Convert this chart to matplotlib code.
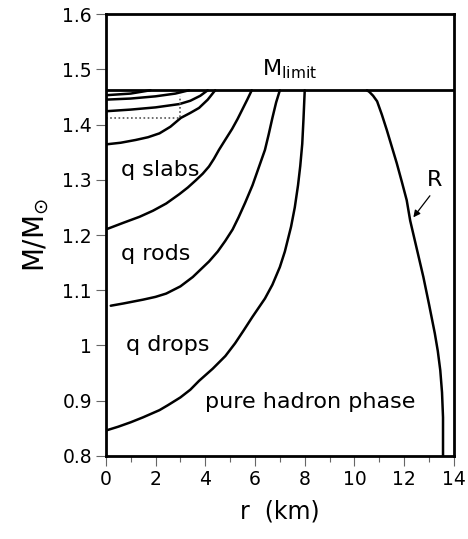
import numpy as np
import matplotlib
matplotlib.use("Agg")
import matplotlib.pyplot as plt
from matplotlib.ticker import MultipleLocator

# mass limit
m_limit = 1.462

# boundary curves (r in km, M in solar masses)
r_a = [0.0, 1.0, 1.8]
m_a = [1.453, 1.456, 1.462]

r_b = [0.0, 1.0, 2.0, 2.8, 3.35]
m_b = [1.445, 1.447, 1.451, 1.456, 1.462]

r_c = [0.0, 1.0, 2.0, 2.96, 3.4, 3.8, 4.1]
m_c = [1.424, 1.427, 1.431, 1.437, 1.443, 1.452, 1.462]

r_d = [0.0, 0.6, 1.2, 1.7, 2.16, 2.6, 3.02, 3.4, 3.75, 4.1, 4.4]
m_d = [1.364, 1.367, 1.372, 1.377, 1.384, 1.396, 1.412, 1.421, 1.430, 1.445, 1.462]

r_e = [0.0, 0.7, 1.36, 1.9, 2.43, 2.96, 3.3, 3.62, 3.9, 4.15, 4.35, 4.55,
       4.8, 5.08, 5.3, 5.5, 5.7, 5.87]
m_e = [1.210, 1.222, 1.233, 1.244, 1.257, 1.274, 1.286, 1.299, 1.311, 1.324, 1.338, 1.354,
       1.372, 1.392, 1.41, 1.428, 1.446, 1.462]

r_f = [0.2, 0.7, 1.5, 2.0, 2.43, 3.0, 3.5, 4.15, 4.5, 4.8, 5.1, 5.34, 5.6,
       5.9, 6.15, 6.4, 6.55, 6.7, 6.85, 7.0]
m_f = [1.072, 1.076, 1.083, 1.088, 1.094, 1.107, 1.124, 1.152, 1.170, 1.189, 1.210, 1.232, 1.258,
       1.290, 1.322, 1.354, 1.382, 1.412, 1.440, 1.462]

r_g = [0.0, 0.5, 1.0, 1.5, 2.16, 2.5, 3.0, 3.4, 3.75, 4.3, 4.81, 5.2, 5.54,
       5.9, 6.4, 6.7, 7.0, 7.2, 7.45, 7.6, 7.73, 7.82, 7.9, 7.95, 8.0]
m_g = [0.846, 0.853, 0.861, 0.870, 0.883, 0.892, 0.906, 0.920, 0.936, 0.958, 0.981, 1.004, 1.027,
       1.052, 1.085, 1.110, 1.142, 1.170, 1.215, 1.250, 1.290, 1.325, 1.365, 1.41, 1.462]

r_R = [10.5, 10.6, 10.75, 10.91, 11.1, 11.3, 11.5, 11.7, 11.9, 12.1, 12.24, 12.5,
       12.77, 13.0, 13.23, 13.35, 13.45, 13.52, 13.56, 13.56]
m_R = [1.462, 1.459, 1.452, 1.442, 1.418, 1.390, 1.360, 1.330, 1.297, 1.263, 1.226, 1.176,
       1.124, 1.074, 1.022, 0.990, 0.955, 0.915, 0.870, 0.800]

# dotted corner
r_dot = [0.0, 3.0, 3.0]
m_dot = [1.412, 1.412, 1.452]

xticks = [0, 2, 4, 6, 8, 10, 12, 14]
yticks = [0.8, 0.9, 1.0, 1.1, 1.2, 1.3, 1.4, 1.5, 1.6]
ylabels = ["0.8", "0.9", "1", "1.1", "1.2", "1.3", "1.4", "1.5", "1.6"]

fig = plt.figure(figsize=(4.68, 5.39), dpi=100)
ax = fig.add_axes([0.226, 0.154, 0.744, 0.820])

lw = 1.8
for r, m in [(r_a, m_a), (r_b, m_b), (r_c, m_c), (r_d, m_d), (r_e, m_e),
             (r_f, m_f), (r_g, m_g), (r_R, m_R)]:
    ax.plot(r, m, color="black", lw=lw, solid_capstyle="round", solid_joinstyle="round")
ax.axhline(m_limit, color="black", lw=2.0)
ax.plot(r_dot, m_dot, color="#555555", lw=1.2, ls=(0, (1, 1.5)))

ax.set_xlim(0, 14)
ax.set_ylim(0.8, 1.6)
ax.set_xticks(xticks)
ax.xaxis.set_minor_locator(MultipleLocator(1))
ax.set_yticks(yticks)
ax.set_yticklabels(ylabels)
ax.tick_params(which="major", direction="out", length=7, width=0.8,
               color="#666666", labelsize=13.5, pad=3)
ax.tick_params(which="minor", axis="x", direction="out", length=4, width=0.8,
               color="#666666")
for s in ax.spines.values():
    s.set_linewidth(2.0)

ax.set_xlabel("r  (km)", fontsize=17, labelpad=8)
ax.set_ylabel(r"M/M$_{\odot}$", fontsize=20, labelpad=8)

ax.text(7.4, 1.50, r"M$_{\mathrm{limit}}$", fontsize=16, ha="center", va="center")
ax.text(0.6, 1.317, "q slabs", fontsize=16, ha="left", va="center")
ax.text(0.6, 1.166, "q rods", fontsize=16, ha="left", va="center")
ax.text(0.8, 1.0, "q drops", fontsize=16, ha="left", va="center")
ax.text(8.2, 0.898, "pure hadron phase", fontsize=16, ha="center", va="center")
ax.text(13.2, 1.30, "R", fontsize=16, ha="center", va="center")
ax.annotate("", xy=(12.3, 1.228), xytext=(13.1, 1.275),
            arrowprops=dict(arrowstyle="-|>", color="black", lw=0.9,
                            mutation_scale=10))

fig.savefig("out.png", dpi=100)
